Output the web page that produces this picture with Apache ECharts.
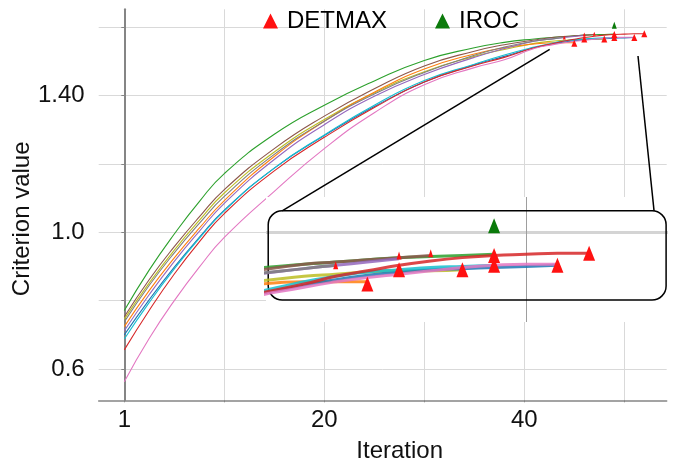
<!DOCTYPE html>
<html>
<head>
<meta charset="utf-8">
<script src="https://cdn.jsdelivr.net/npm/echarts@6/dist/echarts.min.js"></script>
<style>
  html, body { margin: 0; padding: 0; background: #fff; }
  #chart { width: 675px; height: 465px; }
</style>
</head>
<body>
<div id="chart"></div>
<script>
// iteration positions (x) shared by all runs
var iterations = [0, 2.5, 5, 7.5, 10, 15, 20, 25, 30, 35, 38, 41, 43, 44, 45, 46, 47, 48, 49, 50, 51, 52];

// criterion value of each run
var runGreen  = [0.771, 0.890, 0.995, 1.090, 1.172, 1.287, 1.372, 1.443, 1.503, 1.540, 1.556, 1.566, 1.571, 1.573, 1.575, 1.577, 1.578, 1.579, 1.580];
var runBrown  = [0.753, 0.862, 0.958, 1.045, 1.125, 1.245, 1.340, 1.420, 1.487, 1.530, 1.549, 1.563, 1.571, 1.573, 1.575, 1.577, 1.579];
var runOlive  = [0.746, 0.852, 0.948, 1.035, 1.115, 1.235, 1.330, 1.408, 1.470, 1.515, 1.535, 1.553, 1.560, 1.562, 1.564, 1.565, 1.565, 1.566];
var runOrange = [0.724, 0.830, 0.925, 1.012, 1.093, 1.222, 1.325, 1.410, 1.478, 1.522, 1.540, 1.551, 1.555, 1.555, 1.555];
var runPurple = [0.712, 0.818, 0.915, 1.003, 1.085, 1.213, 1.315, 1.398, 1.462, 1.512, 1.538, 1.559, 1.567, 1.570, 1.573, 1.576];
var runGray   = [0.738, 0.845, 0.940, 1.026, 1.105, 1.228, 1.325, 1.405, 1.468, 1.518, 1.542, 1.560, 1.567, 1.570];
var runCyan   = [0.688, 0.795, 0.893, 0.982, 1.063, 1.188, 1.285, 1.372, 1.444, 1.492, 1.519, 1.542, 1.555, 1.560, 1.564, 1.566, 1.568, 1.569, 1.570];
var runBlue   = [0.700, 0.803, 0.898, 0.985, 1.065, 1.188, 1.283, 1.368, 1.440, 1.490, 1.515, 1.540, 1.552, 1.557, 1.561, 1.564, 1.566, 1.567, 1.568, 1.569, 1.570];
var runRed    = [0.656, 0.772, 0.878, 0.972, 1.055, 1.180, 1.278, 1.365, 1.440, 1.488, 1.512, 1.540, 1.553, 1.560, 1.565, 1.570, 1.574, 1.577, 1.579, 1.580, 1.581, 1.581];
var runPink   = [0.563, 0.690, 0.800, 0.898, 0.985, 1.120, 1.245, 1.350, 1.432, 1.482, 1.505, 1.538, 1.550, 1.555, 1.559, 1.562, 1.565, 1.568, 1.570, 1.571, 1.571];

var runs = [
  { v: runGreen,  c: '#2ca02c' },
  { v: runBrown,  c: '#8c564b' },
  { v: runOlive,  c: '#bcbd22' },
  { v: runOrange, c: '#ff7f0e' },
  { v: runPurple, c: '#9467bd' },
  { v: runGray,   c: '#7f7f7f' },
  { v: runBlue,   c: '#1f77b4' },
  { v: runCyan,   c: '#17becf' },
  { v: runRed,    c: '#d62728' },
  { v: runPink,   c: '#e377c2' }
];

// DETMAX end points (big and small markers) and IROC point
var detX = [45, 46, 48, 49, 49, 51, 52];
var detY = [1.553, 1.566, 1.566, 1.579, 1.570, 1.570, 1.581];
var detSmallX = [44, 46, 47];
var detSmallY = [1.570, 1.579, 1.581];
var irocX = [49];
var irocY = [1.606];

// tick values
var xTicks = [0, 10, 20, 30, 40, 50];
var xLabels = [0, 20, 40];
var yTicks = [0.6, 0.8, 1.0, 1.2, 1.4, 1.6];
var yLabels = [0.6, 1.0, 1.4];

// zoom box: connector start (main coords) and end (inset coords), box corners (inset coords)
var zoomFrom = [[42.54, 1.5356], [51.37, 1.516]];
var zoomTo = [[42.31, 1.6194], [54.05, 1.6194]];
var boxCorners = [[41.87, 1.6196], [54.43, 1.5385]];

function pairs(xs, ys) {
  var out = [];
  for (var i = 0; i < ys.length; i++) out.push([xs[i], ys[i]]);
  return out;
}

var font = '"Liberation Sans", Arial, sans-serif';
var chart = echarts.init(document.getElementById('chart'), null, { renderer: 'canvas' });

var series = [];
runs.forEach(function (r, i) {
  series.push({
    name: 'run' + i, type: 'line', xAxisIndex: 0, yAxisIndex: 0,
    data: pairs(iterations, r.v), showSymbol: false, symbol: 'none',
    smooth: 0.5, z: 2,
    lineStyle: { color: r.c, width: 1.1 }, itemStyle: { color: r.c }
  });
  series.push({
    name: 'inset' + i, type: 'line', xAxisIndex: 1, yAxisIndex: 1,
    data: pairs(iterations, r.v), showSymbol: false, symbol: 'none',
    smooth: 0.5, z: 5, clip: true,
    lineStyle: { color: r.c, width: 3, opacity: 0.85 }, itemStyle: { color: r.c }
  });
});

series.push(
  { name: 'DETMAX', type: 'scatter', xAxisIndex: 0, yAxisIndex: 0, symbol: 'triangle',
    symbolSize: [6, 7], data: pairs(detX, detY), itemStyle: { color: '#ff1111', opacity: 1 }, z: 3 },
  { name: 'DETMAX', type: 'scatter', xAxisIndex: 0, yAxisIndex: 0, symbol: 'triangle',
    symbolSize: [3, 4], data: pairs(detSmallX, detSmallY), itemStyle: { color: '#ff1111', opacity: 1 }, z: 3 },
  { name: 'IROC', type: 'scatter', xAxisIndex: 0, yAxisIndex: 0, symbol: 'triangle',
    symbolSize: [5, 7], data: pairs(irocX, irocY), itemStyle: { color: '#0b7a0b', opacity: 1 }, z: 3 },
  { name: 'DETMAX', type: 'scatter', xAxisIndex: 1, yAxisIndex: 1, symbol: 'triangle',
    symbolSize: [12, 15], data: pairs(detX, detY), itemStyle: { color: '#ff1111', opacity: 1 }, z: 6 },
  { name: 'DETMAX', type: 'scatter', xAxisIndex: 1, yAxisIndex: 1, symbol: 'triangle',
    symbolSize: [5, 8], data: pairs(detSmallX, detSmallY), itemStyle: { color: '#ff1111', opacity: 1 }, z: 6 },
  { name: 'IROC', type: 'scatter', xAxisIndex: 1, yAxisIndex: 1, symbol: 'triangle',
    symbolSize: [12, 15], data: pairs(irocX, irocY), itemStyle: { color: '#0b7a0b', opacity: 1 }, z: 6 }
);

var option = {
  animation: false,
  backgroundColor: '#fff',
  textStyle: { fontFamily: font },
  legend: {
    data: ['DETMAX', 'IROC'], left: 258, top: 4, icon: 'triangle',
    itemWidth: 15, itemHeight: 15, itemGap: 48,
    textStyle: { fontSize: 24, color: '#000', fontFamily: font, padding: [0, 0, 0, 4] }
  },
  grid: [
    { left: 98.7, right: 8.3, top: 9.3, bottom: 64.7, containLabel: false, outerBoundsMode: 'none' },
    { left: 266, right: 7, top: 197, bottom: 143, show: true, backgroundColor: '#fff', borderWidth: 0, z: 3, outerBoundsMode: 'none' }
  ],
  xAxis: [
    {
      type: 'value', gridIndex: 0, min: -2.56, max: 54.24,
      axisLine: { show: true, lineStyle: { color: '#858585', width: 1.5 } },
      axisTick: { show: true, length: 2, customValues: xTicks, lineStyle: { color: '#858585' } },
      axisLabel: {
        customValues: xLabels, margin: 8, fontSize: 24, color: '#111', fontFamily: font,
        formatter: function (v) { return v === 0 ? '1' : String(v); }
      },
      splitLine: { show: true, lineStyle: { color: '#d9d9d9', width: 1 } },
      name: 'Iteration', nameLocation: 'middle', nameGap: 39, nameMoveOverlap: false,
      nameTextStyle: { fontSize: 24, color: '#111', fontFamily: font, padding: [0, 0, 0, 34] }
    },
    {
      type: 'value', gridIndex: 1, min: 41.8, max: 54.49, z: 4,
      axisLine: { show: false }, axisLabel: { show: false },
      axisTick: { show: false, customValues: [50] },
      splitLine: { show: true, lineStyle: { color: '#9e9e9e', width: 1 } }
    }
  ],
  yAxis: [
    {
      type: 'value', gridIndex: 0, min: 0.5084, max: 1.6527,
      axisLine: { show: true, lineStyle: { color: '#858585', width: 2 } },
      axisTick: { show: true, length: 3, customValues: yTicks, lineStyle: { color: '#858585' } },
      axisLabel: {
        customValues: yLabels, margin: 14, fontSize: 24, color: '#111', fontFamily: font,
        formatter: function (v) { return Math.abs(v - 1.4) < 1e-9 ? '1.40' : v.toFixed(1); }
      },
      splitLine: { show: true, lineStyle: { color: '#d9d9d9', width: 1 } },
      name: 'Criterion value', nameLocation: 'middle', nameGap: 64, nameMoveOverlap: false,
      nameTextStyle: { fontSize: 24, color: '#111', fontFamily: font, padding: [0, 28, 0, 0] }
    },
    {
      type: 'value', gridIndex: 1, min: 1.5185, max: 1.6321, z: 4,
      axisLine: { show: false }, axisLabel: { show: false },
      axisTick: { show: false, customValues: [1.6] },
      splitLine: { show: true, lineStyle: { color: '#d4d4d4', width: 3 } }
    }
  ],
  series: series
};

chart.setOption(option);

// zoom box outline and connector lines, placed through the axes
var a = chart.convertToPixel({ xAxisIndex: 1, yAxisIndex: 1 }, boxCorners[0]);
var b = chart.convertToPixel({ xAxisIndex: 1, yAxisIndex: 1 }, boxCorners[1]);
var graphics = [{
  type: 'rect', z: 4, silent: true,
  shape: { x: a[0], y: a[1], width: b[0] - a[0], height: b[1] - a[1], r: 14 },
  style: { fill: null, stroke: '#000', lineWidth: 1.5 }
}];
for (var k = 0; k < 2; k++) {
  var p = chart.convertToPixel({ xAxisIndex: 0, yAxisIndex: 0 }, zoomFrom[k]);
  var q = chart.convertToPixel({ xAxisIndex: 1, yAxisIndex: 1 }, zoomTo[k]);
  graphics.push({
    type: 'line', z: 4, silent: true,
    shape: { x1: p[0], y1: p[1], x2: q[0], y2: q[1] },
    style: { stroke: '#000', lineWidth: 1.5 }
  });
}
chart.setOption({ graphic: graphics });
</script>
</body>
</html>
